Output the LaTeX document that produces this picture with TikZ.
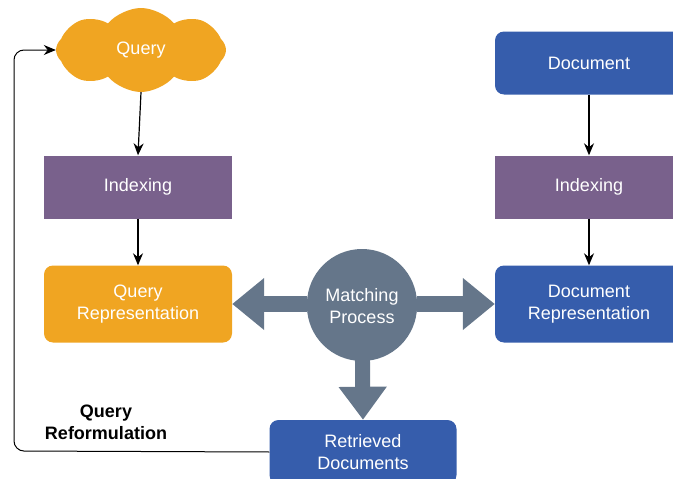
\documentclass[tikz,border=0pt]{standalone}
\usepackage{fontspec}
\setmainfont{Liberation Sans}
\usetikzlibrary{shapes.symbols,arrows.meta}

\definecolor{qorange}{RGB}{240,165,34}
\definecolor{dblue}{RGB}{54,93,172}
\definecolor{ipurple}{RGB}{121,97,140}
\definecolor{mgray}{RGB}{101,118,138}

\tikzset{
	box/.style={minimum width=188pt, align=center, text=white,
		font=\fontsize{18}{22}\selectfont},
	idxbox/.style={box, fill=ipurple, minimum height=63pt},
	repbox/.style={box, rounded corners=9pt, minimum height=77pt},
	thin arrow/.style={line width=1.2pt, -{Stealth[length=12pt,width=10pt]}},
	fat arrow/.style={mgray, line width=16pt, -{Triangle[length=32pt,width=50pt]}}
}

\begin{document}
\begin{tikzpicture}[x=1pt,y=-1pt]
	\useasboundingbox (0,0) rectangle (673,479);
	
	% Query side
	\node[cloud, cloud puffs=8, cloud puff arc=100, cloud ignores aspect,
		minimum width=170pt, minimum height=84pt, fill=qorange,
		text=white, font=\fontsize{18}{22}\selectfont] (q) at (141,50) {Query};
	\node[idxbox] (qidx) at (138,187) {Indexing};
	\node[repbox, fill=qorange] (qrep) at (138,304) {Query\\Representation};
	
	% Document side
	\node[repbox, fill=dblue, minimum height=63pt] (doc) at (589,63) {Document};
	\node[idxbox] (didx) at (589,187) {Indexing};
	\node[repbox, fill=dblue] (drep) at (589,304) {Document\\Representation};
	
	% Matching
	\node[circle, fill=mgray, minimum size=110pt, inner sep=0pt] (mp) at (362,304) {};
	\node[repbox, fill=dblue, minimum width=187pt, minimum height=64pt] (ret) at (363,452) {Retrieved\\Documents};
	
	% Thin arrows
	\draw[thin arrow] (q.south) -- (qidx.north);
	\draw[thin arrow] (qidx) -- (qrep);
	\draw[thin arrow] (doc) -- (didx);
	\draw[thin arrow] (didx) -- (drep);
	
	% Fat arrows
	\draw[fat arrow] (mp) -- (qrep.east);
	\draw[fat arrow] (mp) -- (drep.west);
	\draw[fat arrow, line width=15pt, -{Triangle[length=33pt,width=46pt]}] (mp) -- (ret.north);
	\node[circle, fill=mgray, minimum size=110pt, inner sep=0pt, align=center,
		text=white, font=\fontsize{18}{22}\selectfont] (mptext) at (362,306) {Matching\\Process};
	
	% Feedback
	\coordinate (fb) at (14,451);
	\draw[thin arrow, line width=1pt, rounded corners=10pt] (ret.west) -- (fb) |- (q.west);
	\node[align=center, font=\fontsize{18}{22}\selectfont\bfseries] (reform) at (106,422) {Query\\Reformulation};
	
\end{tikzpicture}
\end{document}
